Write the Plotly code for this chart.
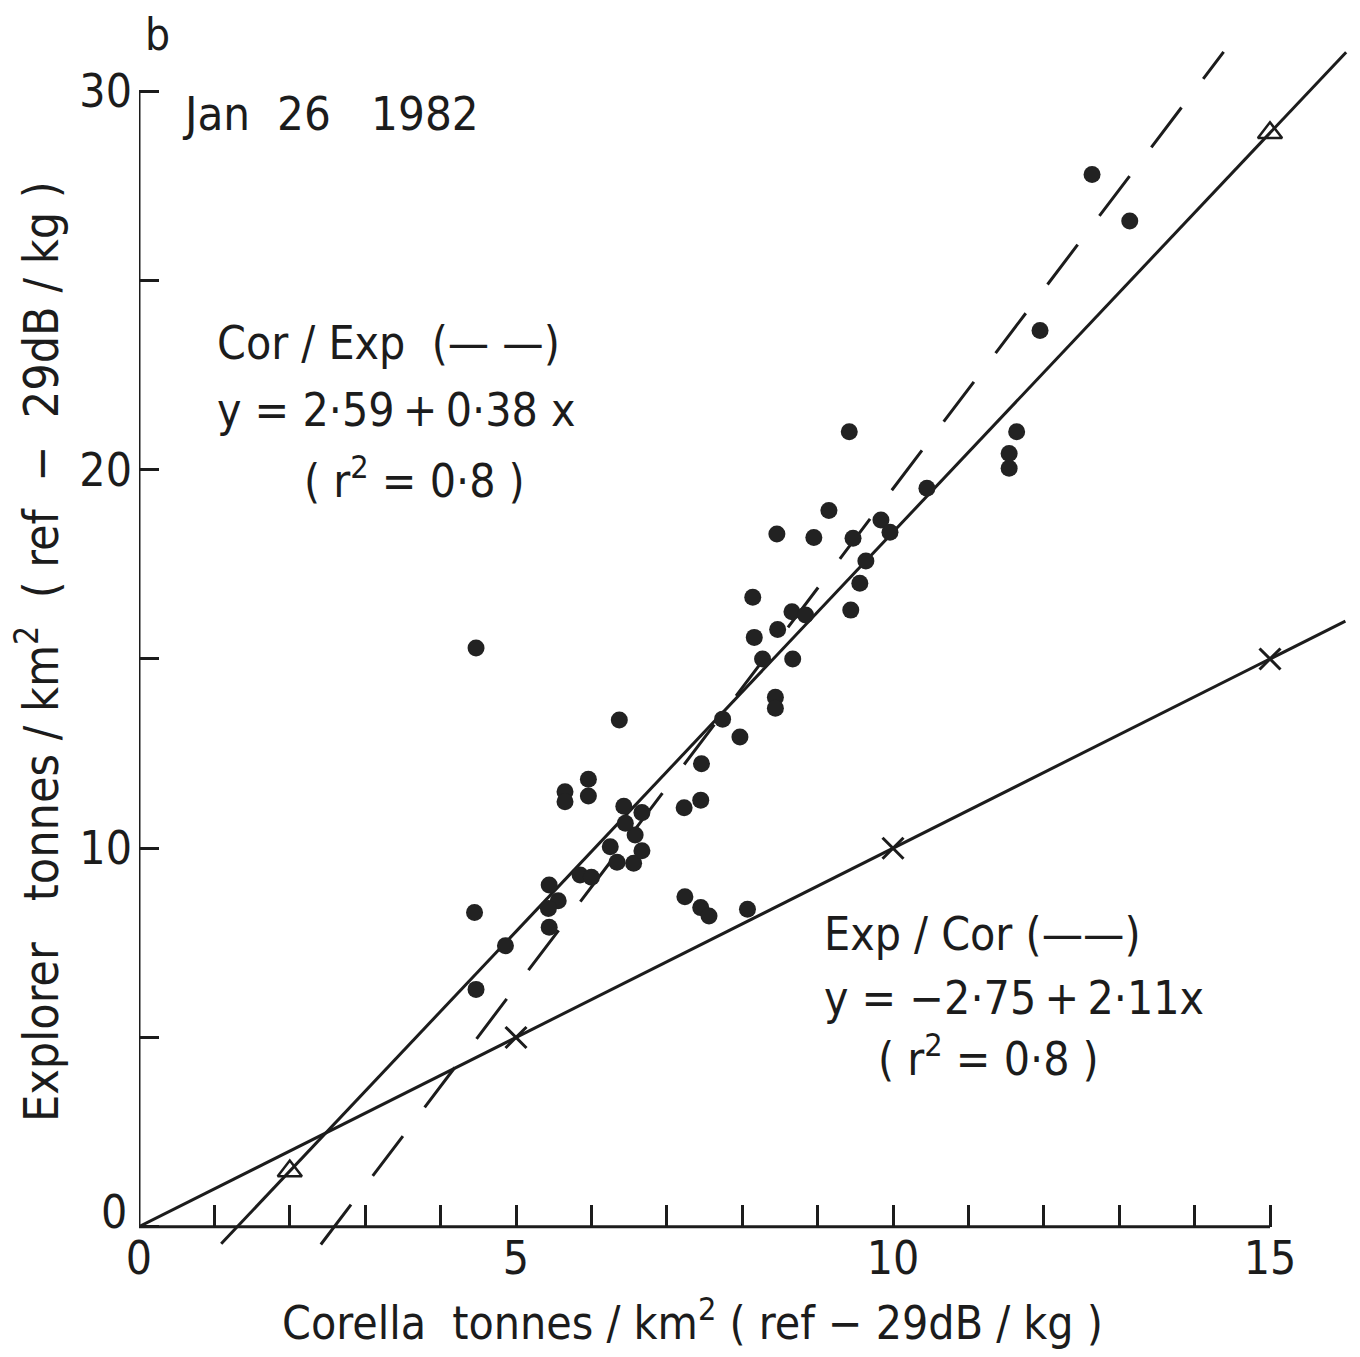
import plotly.graph_objects as go

# ---- data (Corella x, Explorer y; tonnes/km^2) ----
corella = [4.47, 4.45, 4.47, 4.86, 5.44, 5.56, 5.43, 5.44, 5.65, 5.65,
           5.96, 5.96, 5.85, 6.00, 6.25, 6.34, 6.56, 6.67, 6.58, 6.45,
           6.43, 6.67, 6.37, 7.23, 7.45, 7.46, 7.24, 7.45, 7.56, 8.07,
           7.74, 7.97, 8.44, 8.44, 8.27, 8.67, 8.16, 8.47, 8.14, 8.66,
           8.84, 8.46, 8.95, 9.15, 9.47, 9.44, 9.56, 9.64, 9.84, 9.96,
           9.42, 10.45, 11.54, 11.54, 11.64, 11.95, 12.64, 13.14]
explorer = [15.29, 8.30, 6.27, 7.42, 9.03, 8.61, 8.41, 7.91, 11.49, 11.23,
            11.82, 11.38, 9.29, 9.23, 10.04, 9.63, 9.60, 9.93, 10.35, 10.66,
            11.11, 10.94, 13.39, 11.07, 11.27, 12.23, 8.72, 8.43, 8.21, 8.39,
            13.41, 12.94, 13.99, 13.70, 15.00, 15.00, 15.57, 15.78, 16.63, 16.25,
            16.16, 18.30, 18.21, 18.92, 18.19, 16.29, 17.00, 17.59, 18.67, 18.35,
            21.00, 19.51, 20.04, 20.43, 21.00, 23.68, 27.80, 26.57]

# regression Exp/Cor: y = -2.75 + 2.11 x (solid, steep)
exp_cor_a, exp_cor_b = -2.75, 2.11
exp_cor_y_start, exp_cor_x_end = -0.45, 16.01
exp_cor_marker_x = [2, 15]
# regression Cor/Exp: x = 2.59 + 0.38 y (dashed)
cor_exp_a, cor_exp_b = 2.59, 0.38
cor_exp_y_range = [-0.47, 31.04]
# 1:1 line with x markers
one_to_one_range = [0, 16.0]
one_to_one_marker_x = [5, 10, 15]

x_label_vals = [0, 5, 10, 15]
x_label_text = ["0", "5", "10", "15"]
x_minor_vals = [v for v in range(1, 15) if v % 5 != 0]
y_label_vals = [10, 20, 30]
y_label_text = ["10", "20", "30"]
y_minor_vals = [0, 5, 15, 25]
y_zero_label = "0"   # sits slightly above its tick in the original; drawn as an annotation

FONT = "Liberation Sans Narrow, DejaVu Sans Condensed, Roboto Condensed, Liberation Sans, sans-serif"
INK = "#1c1c1c"
TS = 46
TH = "\u2009"  # thin space

# page has an 8px body margin; figure is sized to fit inside it
OFF = 8
W, H = 1344, 1341
ML, MR, MT, MB = 131, 0, 8, 100
PXX = 75.4   # px per x unit
PXY = 37.85  # px per y unit
Y0_ABS = 1226.7
X0_ABS = ML + OFF
plot_w = W - ML - MR
plot_h = H - MT - MB
plot_bottom_abs = OFF + H - MB
x_max = plot_w / PXX
y_min = -(plot_bottom_abs - Y0_ABS) / PXY
y_max = y_min + plot_h / PXY

fig = go.Figure()

# 1:1 line
fig.add_trace(go.Scatter(x=one_to_one_range, y=one_to_one_range, mode="lines",
                         line=dict(color=INK, width=3), hoverinfo="skip"))
fig.add_trace(go.Scatter(x=one_to_one_marker_x, y=one_to_one_marker_x, mode="markers",
                         marker=dict(symbol="x-thin-open", size=21, color=INK,
                                     line=dict(color=INK, width=3)),
                         hoverinfo="skip"))

# steep solid regression
x0 = (exp_cor_y_start - exp_cor_a) / exp_cor_b
xs = [x0, exp_cor_x_end]
fig.add_trace(go.Scatter(x=xs, y=[exp_cor_a + exp_cor_b * v for v in xs], mode="lines",
                         line=dict(color=INK, width=3), hoverinfo="skip"))
fig.add_trace(go.Scatter(x=exp_cor_marker_x, y=[exp_cor_a + exp_cor_b * v for v in exp_cor_marker_x],
                         mode="markers",
                         marker=dict(symbol="triangle-up-open", size=21, color=INK,
                                     line=dict(color=INK, width=2.5)),
                         hoverinfo="skip"))

# dashed regression
fig.add_trace(go.Scatter(x=[cor_exp_a + cor_exp_b * v for v in cor_exp_y_range], y=cor_exp_y_range,
                         mode="lines", line=dict(color=INK, width=3, dash="50px,36px"),
                         hoverinfo="skip"))

# data points
fig.add_trace(go.Scatter(x=corella, y=explorer, mode="markers",
                         marker=dict(color="#222222", size=17, line=dict(width=0))))

# axis lines
fig.add_shape(type="line", x0=0, y0=0, x1=15, y1=0, line=dict(color=INK, width=3))
fig.add_shape(type="line", x0=0, y0=0, x1=0, y1=30, line=dict(color=INK, width=3))


def px2x(p):
    return (p - X0_ABS) / PXX


def px2y(p):
    return (Y0_ABS - p) / PXY


def ppx(p):
    return (p - X0_ABS) / plot_w


def ppy(p):
    return (plot_bottom_abs - p) / plot_h


def ann(text, x, y, xanchor="left", size=TS):
    fig.add_annotation(text=text, x=x, y=y, xref="x", yref="y", xanchor=xanchor,
                       yanchor="middle", showarrow=False,
                       font=dict(family=FONT, size=size, color=INK))


ann("b", px2x(157), px2y(34), xanchor="center", size=44)
ann("Jan  26   1982", px2x(180), px2y(113), size=47)
ann("Cor / Exp  (— —)", px2x(215), px2y(343))
ann(f"y = 2·59{TH}+{TH}0·38 x", px2x(215), px2y(410))
ann("( r<sup>2</sup> = 0·8 )", px2x(302), px2y(478))
ann("Exp / Cor (——)", px2x(822), px2y(934))
ann(f"y = −2·75{TH}+{TH}2·11x", px2x(822), px2y(998))
ann("( r<sup>2</sup> = 0·8 )", px2x(876), px2y(1056))

# y-axis "0" label
fig.add_annotation(text=y_zero_label, x=ppx(129), y=ppy(1212), xref="paper", yref="paper",
                   xanchor="right", yanchor="middle", showarrow=False,
                   font=dict(family=FONT, size=TS, color=INK))

# axis titles (paper coords)
fig.add_annotation(text="Corella  tonnes / km<sup>2</sup> ( ref − 29dB / kg )",
                   x=ppx(692), y=ppy(1320), xref="paper", yref="paper", xanchor="center",
                   yanchor="middle", showarrow=False,
                   font=dict(family=FONT, size=TS, color=INK))
fig.add_annotation(text="Explorer   tonnes / km<sup>2</sup>  ( ref  −  29dB / kg )",
                   x=ppx(38), y=ppy(652), xref="paper", yref="paper", xanchor="center",
                   yanchor="middle", showarrow=False, textangle=-90,
                   font=dict(family=FONT, size=48, color=INK))

fig.update_layout(
    width=W, height=H,
    margin=dict(l=ML, r=MR, t=MT, b=MB, pad=0),
    plot_bgcolor="white", paper_bgcolor="white",
    showlegend=False,
    xaxis=dict(range=[0, x_max], showgrid=False, zeroline=False, showline=False,
               tickmode="array", tickvals=x_label_vals, ticktext=x_label_text,
               ticks="inside", ticklen=22, tickwidth=3, tickcolor=INK,
               minor=dict(tickmode="array", tickvals=x_minor_vals, ticks="inside",
                          ticklen=22, tickwidth=3, tickcolor=INK, showgrid=False),
               anchor="free", position=(0 - y_min) / (y_max - y_min),
               tickfont=dict(family=FONT, size=TS, color=INK)),
    yaxis=dict(range=[y_min, y_max], showgrid=False, zeroline=False, showline=False,
               tickmode="array", tickvals=y_label_vals, ticktext=y_label_text,
               ticks="inside", ticklen=20, tickwidth=3, tickcolor=INK,
               minor=dict(tickmode="array", tickvals=y_minor_vals, ticks="inside",
                          ticklen=20, tickwidth=3, tickcolor=INK, showgrid=False),
               ticklabelstandoff=6,
               tickfont=dict(family=FONT, size=TS, color=INK)),
)

fig.write_html("out.html")
